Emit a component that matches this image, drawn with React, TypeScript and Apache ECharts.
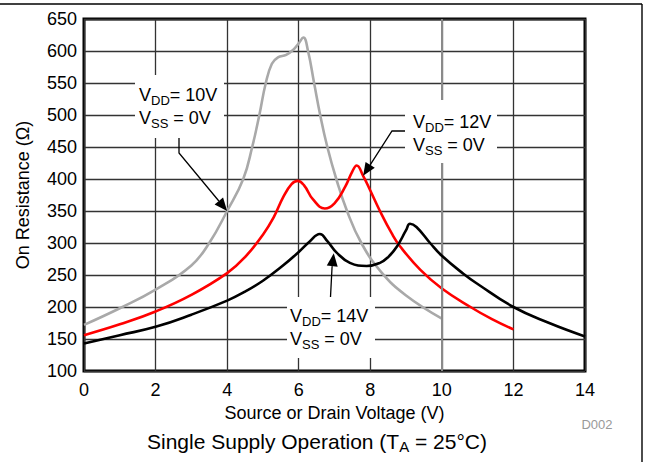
import React, { useEffect, useRef } from 'react';
import * as echarts from 'echarts';

// Source or Drain Voltage (V)
const vdd10X = [0, 1, 2, 3, 3.5, 4, 4.45, 4.7, 4.9, 5.08, 5.25, 5.42, 5.65, 5.85, 6.0, 6.13, 6.26, 6.43, 6.6, 6.8, 7.05, 7.35, 7.75, 8.3, 9.0, 10];
// On Resistance (Ω)
const vdd10Y = [172, 198, 227, 265, 300, 350, 400, 450, 500, 550, 580, 590, 594, 602, 612, 621, 600, 550, 500, 450, 400, 350, 300, 255, 218, 182];

const vdd12X = [0, 1, 2, 3, 4, 4.5, 5, 5.3, 5.57, 5.8, 5.97, 6.15, 6.4, 6.73, 7.0, 7.3, 7.5, 7.62, 7.8, 8.0, 8.27, 8.6, 8.83, 9.4, 10, 10.8, 11.4, 12];
const vdd12Y = [156, 173, 193, 219, 253, 278, 313, 340, 372, 392, 397, 390, 368, 354, 362, 388, 412, 421, 405, 382, 350, 315, 295, 258, 229, 200, 181, 165];

const vdd14X = [0, 1, 2, 3, 4, 4.5, 5, 5.5, 6, 6.3, 6.59, 6.8, 7.06, 7.43, 7.9, 8.27, 8.5, 8.74, 9.0, 9.11, 9.29, 9.67, 10, 10.6, 11, 12, 13, 14];
const vdd14Y = [143, 156, 169, 188, 210, 224, 241, 262, 286, 302, 314, 303, 285, 269, 264, 269, 278, 294, 320, 330, 325, 300, 280, 252, 236, 200, 175, 154];

const xMin = 0, xMax = 14, xStep = 2;
const yMin = 100, yMax = 650, yStep = 50;
const lightGridX = 10;

const xName = 'Source or Drain Voltage (V)';
const yName = 'On Resistance (Ω)';

const pairs = (xs: number[], ys: number[]) => xs.map((x, i) => [x, ys[i]]);

const FONT = '"Liberation Sans", Arial, sans-serif';

export default function App() {
  const ref = useRef<HTMLDivElement>(null);
  useEffect(() => {
    const chart = echarts.init(ref.current!, null, { renderer: 'svg' });
    const option: any = {
      animation: false,
      backgroundColor: '#fff',
      textStyle: { fontFamily: FONT },
      grid: {
        left: 84, right: 64, top: 19, bottom: 91,
        show: true, borderColor: '#000', borderWidth: 3, backgroundColor: 'transparent',
      },
      xAxis: {
        type: 'value', min: xMin, max: xMax, interval: xStep,
        axisLine: { show: false }, axisTick: { show: false },
        axisLabel: { fontSize: 18, color: '#000', margin: 10, fontFamily: FONT },
        splitLine: { show: true, lineStyle: { color: '#333', width: 1.3 } },
        name: xName, nameLocation: 'middle', nameGap: 30,
        nameTextStyle: { fontSize: 18, color: '#000', fontFamily: FONT },
      },
      yAxis: {
        type: 'value', min: yMin, max: yMax, interval: yStep,
        axisLine: { show: false }, axisTick: { show: false },
        axisLabel: { fontSize: 18, color: '#000', margin: 7, fontFamily: FONT },
        splitLine: { show: true, lineStyle: { color: '#333', width: 1.3 } },
        name: yName, nameLocation: 'middle', nameGap: 52, nameRotate: 90,
        nameTextStyle: { fontSize: 18, color: '#000', fontFamily: FONT },
      },
      series: [
        {
          type: 'line', name: 'VDD=10V', data: pairs(vdd10X, vdd10Y), smooth: 0.45, showSymbol: false,
          lineStyle: { color: '#a9a9a9', width: 2.6 }, z: 3,
          markLine: {
            silent: true, symbol: 'none', label: { show: false },
            lineStyle: { color: '#8a8a8a', width: 2, type: 'solid' },
            data: [{ xAxis: lightGridX }],
          },
        },
        { type: 'line', name: 'VDD=12V', data: pairs(vdd12X, vdd12Y), smooth: 0.45, showSymbol: false, lineStyle: { color: '#ff0000', width: 2.6 }, z: 4 },
        { type: 'line', name: 'VDD=14V', data: pairs(vdd14X, vdd14Y), smooth: 0.45, showSymbol: false, lineStyle: { color: '#000', width: 2.6 }, z: 5 },
      ],
    };
    chart.setOption(option);

    const px = (p: number[]) => chart.convertToPixel({ gridIndex: 0 }, p) as number[];
    const arrow = (pts: number[][], tip: number[], len = 13, w = 5.5): any[] => {
      const from = pts[pts.length - 1];
      let dx = tip[0] - from[0], dy = tip[1] - from[1];
      const d = Math.hypot(dx, dy); dx /= d; dy /= d;
      const base = [tip[0] - dx * len, tip[1] - dy * len];
      const nx = -dy, ny = dx;
      return [
        { type: 'polyline', z: 20, shape: { points: [...pts, base] }, style: { stroke: '#000', lineWidth: 1.3, fill: null } },
        { type: 'polygon', z: 20, shape: { points: [tip, [base[0] + nx * w, base[1] + ny * w], [base[0] - nx * w, base[1] - ny * w]] }, style: { fill: '#000' } },
      ];
    };
    const rich = {
      m: { fontSize: 18, lineHeight: 23, fontFamily: FONT, color: '#000', verticalAlign: 'middle' },
      s: { fontSize: 13, lineHeight: 13, fontFamily: FONT, color: '#000', verticalAlign: 'bottom' },
    };
    const label = (x: number, y: number, vdd: string) => ({
      type: 'text', z: 21, x, y,
      style: { text: `{m|V}{s|DD}{m|= ${vdd}}\n{m|V}{s|SS}{m| = 0V}`, rich, verticalAlign: 'top', align: 'left' },
    });
    const box = (x: number, y: number, w: number, h: number) => ({ type: 'rect', z: 15, shape: { x, y, width: w, height: h }, style: { fill: '#fff' } });

    const t10 = px([4, 350]);
    const t12 = px([7.8, 405]);
    const t14 = px([6.98, 284]);

    chart.setOption({
      graphic: [
        { type: 'line', z: 30, shape: { x1: 0, y1: 4, x2: 642, y2: 4 }, style: { stroke: '#000', lineWidth: 1.4 } },
        { type: 'line', z: 30, shape: { x1: 642, y1: 4, x2: 642, y2: 462 }, style: { stroke: '#000', lineWidth: 1.4 } },
        box(135, 75, 89, 63),
        box(405, 100, 92, 63),
        box(287, 297, 88, 61),
        label(139, 83.5, '10V'),
        label(413, 110.5, '12V'),
        label(290, 304.5, '14V'),
        ...arrow([[179, 138], [179, 153]], t10),
        ...arrow([[405, 131], [392, 131]], t12),
        ...arrow([[330.5, 297], [332, 268]], t14),
        {
          type: 'text', z: 21, x: 317, y: 441,
          style: {
            text: '{m|Single Supply Operation (T}{s|A}{m| = 25°C)}',
            rich: {
              m: { fontSize: 21, lineHeight: 26, fontFamily: FONT, color: '#000', verticalAlign: 'middle' },
              s: { fontSize: 15, lineHeight: 15, fontFamily: FONT, color: '#000', verticalAlign: 'bottom' },
            },
            align: 'center', verticalAlign: 'middle',
          },
        },
        { type: 'text', z: 21, x: 597, y: 424, style: { text: 'D002', fontSize: 13, fontFamily: FONT, fill: '#999', align: 'center', verticalAlign: 'middle' } },
      ],
    });
    return () => chart.dispose();
  }, []);
  return <div ref={ref} style={{ position: 'fixed', left: 0, top: 0, width: 649, height: 462 }} />;
}
